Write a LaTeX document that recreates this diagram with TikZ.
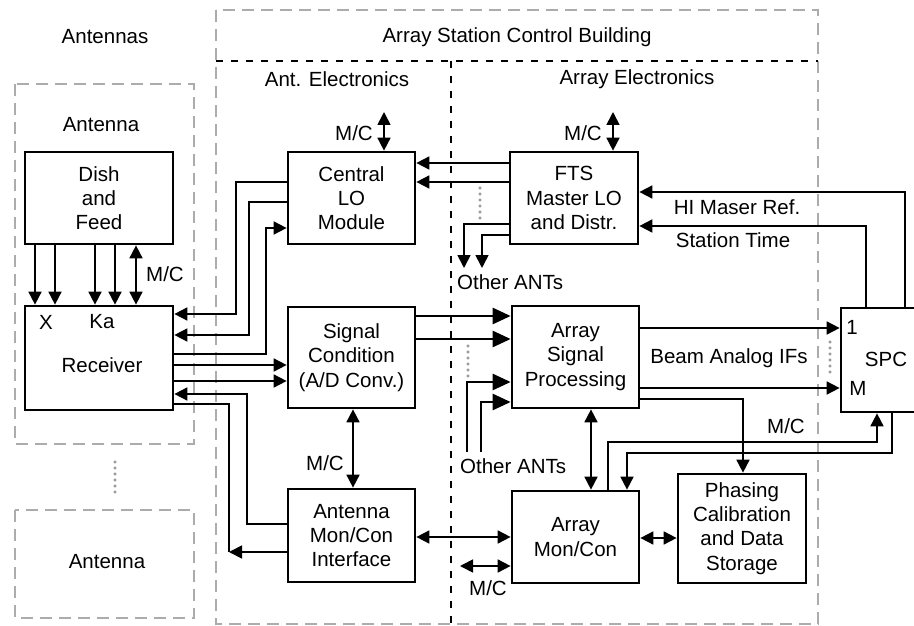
\documentclass[tikz,border=0pt]{standalone}
\usepackage{fontspec}
\setmainfont{Liberation Sans}
\usetikzlibrary{arrows.meta}
\newcommand\dfont{\fontsize{20.5}{24.3}\selectfont}
\definecolor{dgray}{RGB}{172,172,172}
\definecolor{dotgray}{RGB}{120,120,120}
\tikzset{
  blk/.style={draw, line width=2.7pt, align=center, inner sep=0pt, font=\dfont},
  lbl/.style={inner sep=0pt, font=\dfont, align=center},
  conn/.style={line width=1.7pt},
  arr/.style={line width=1.7pt, -{Triangle[length=13pt,width=13pt]}},
  darr/.style={line width=1.7pt, {Triangle[length=13pt,width=13pt]}-{Triangle[length=13pt,width=13pt]}},
  tarr/.style={line width=2.6pt, -{Triangle[length=18pt,width=16pt]}},
  grayzone/.style={draw=dgray, line width=2.5pt, dash pattern=on 12pt off 7pt},
  blackzone/.style={draw=black, line width=2.3pt, dash pattern=on 7pt off 8pt},
  dotc/.style={draw=dotgray, line width=0.6pt}
}
\newcommand\dotcol[2]{\foreach \k in {0,...,5}{\draw[dotc] (#1,#2+6*\k) circle (1.3pt);}}
\begin{document}
\begin{tikzpicture}[x=1pt,y=-1pt]
\useasboundingbox (0,0) rectangle (914,626);
% zones
\draw[grayzone] (216,10) rectangle (818,624);
\draw[blackzone] (216,61) -- (818,61);
\draw[blackzone] (451,61) -- (451,626);
\draw[grayzone] (15,84) rectangle (194,444);
\draw[grayzone] (15,510) rectangle (194,618);
% zone labels
\node[lbl] (tAntennas) at (105,37) {Antennas};
\node[lbl] (tASCB) at (517,37) {Array Station Control Building};
\node[lbl] (tAntEl) at (337,79) {Ant. Electronics};
\node[lbl] (tArrEl) at (637,79) {Array Electronics};
\node[lbl] (tAnt1) at (101,125) {Antenna};
\node[lbl] (tAnt2) at (107,562) {Antenna};
% blocks
\node[blk, minimum width=148pt, minimum height=92pt] (dish) at (99,198) {Dish\\and\\Feed};
\node[blk, minimum width=148pt, minimum height=104pt] (recv) at (99,358) {};
\node[lbl] (tX) at (46,322) {X};
\node[lbl] (tKa) at (102,322) {Ka};
\node[lbl] (tRecv) at (102,365) {Receiver};
\node[blk, minimum width=127pt, minimum height=92pt] (clo) at (351.5,198) {Central\\LO\\Module};
\node[blk, minimum width=128pt, minimum height=92pt] (fts) at (574,198) {FTS\\Master LO\\and Distr.};
\node[blk, minimum width=127pt, minimum height=101pt] (sc) at (351.5,357.5) {Signal\\Condition\\(A/D Conv.)};
\node[blk, minimum width=127pt, minimum height=93pt] (amci) at (351.5,535.5) {Antenna\\Mon/Con\\Interface};
\node[blk, minimum width=127pt, minimum height=102pt] (asp) at (575.5,357) {Array\\Signal\\Processing};
\node[blk, minimum width=127pt, minimum height=92pt] (amc) at (575.5,537) {Array\\Mon/Con};
\node[blk, minimum width=128pt, minimum height=109pt] (pcds) at (742,528.5) {Phasing\\Calibration\\and Data\\Storage};
\node[blk, minimum width=90pt, minimum height=104pt] (spc) at (886,360) {};
\node[lbl] (tSPC) at (886,359) {SPC};
\node[lbl] (t1) at (852,327) {1};
\node[lbl] (tM) at (858,388) {M};
% dish -> receiver
\foreach \xx in {35,55,95,115}{\draw[arr] (dish.south -| \xx,0) -- (recv.north -| \xx,0);}
\draw[darr] (recv.north -| 136,0) -- (dish.south -| 136,0);
\node[lbl] (mc1) at (165,274) {M/C};
% central LO <-> receiver
\draw[arr] (clo.west |- 0,182) -| (236,314) -- (recv.east |- 0,314);
\draw[arr] (clo.west |- 0,202) -| (249,335) -- (recv.east |- 0,335);
\draw[arr] (recv.east |- 0,354) -| (266,228) -- (clo.west |- 0,228);
% receiver -> signal condition
\draw[arr] (recv.east |- 0,365) -- (sc.west |- 0,365);
\draw[arr] (recv.east |- 0,381) -- (sc.west |- 0,381);
% antenna mon/con interface <-> receiver
\draw[arr] (amci.west |- 0,524) -| (247,394) -- (recv.east |- 0,394);
\coordinate (c552) at (229,552);
\draw[conn] (recv.east |- 0,404) -| (c552);
\draw[arr] (amci.west |- 0,552) -- (c552);
% sc <-> amci
\draw[darr] (sc.south -| 353,0) -- (amci.north -| 353,0);
\node[lbl] (mc2) at (325,463) {M/C};
% M/C on central LO and FTS
\coordinate (cloMC) at (384,112);
\draw[darr] (cloMC) -- (clo.north -| cloMC);
\node[lbl] (mc3) at (354,133) {M/C};
\coordinate (ftsMC) at (613,112);
\draw[darr] (ftsMC) -- (fts.north -| ftsMC);
\node[lbl] (mc4) at (583,133) {M/C};
% FTS -> central LO
\draw[arr] (fts.west |- 0,163) -- (clo.east |- 0,163);
\draw[arr] (fts.west |- 0,182) -- (clo.east |- 0,182);
% FTS -> other ANTs
\coordinate (oa1) at (464,268);
\coordinate (oa2) at (482,268);
\draw[arr] (fts.west |- 0,224) -| (oa1);
\draw[arr] (fts.west |- 0,235) -| (oa2);
\node[lbl, anchor=west] (toa1) at (457,282) {Other ANTs};
\dotcol{480}{188}
% SC -> ASP thick
\draw[tarr] (sc.east |- 0,316) -- (asp.west |- 0,316);
\draw[tarr] (sc.east |- 0,339) -- (asp.west |- 0,339);
% other ANTs -> ASP
\coordinate (ob1) at (467,452);
\coordinate (ob2) at (481,452);
\draw[tarr] (ob1) |- (asp.west |- 0,382);
\draw[tarr] (ob2) |- (asp.west |- 0,402);
\node[lbl, anchor=west] (toa2) at (460,466) {Other ANTs};
\dotcol{468}{346}
% ASP -> SPC
\draw[arr] (asp.east |- 0,328) -- (spc.west |- 0,328);
\draw[arr] (asp.east |- 0,388) -- (spc.west |- 0,388);
\node[lbl] (tBeam) at (729,358) {Beam Analog IFs};
\dotcol{830}{342}
% ASP -> Phasing
\draw[arr] (asp.east |- 0,399) -| (pcds.north -| 743,0);
% ASP <-> AMC
\draw[darr] (asp.south -| 591,0) -- (amc.north -| 591,0);
% AMC <-> SPC
\draw[arr] (amc.north -| 608,0) |- (877,442) -- (spc.south -| 877,0);
\node[lbl] (mc5) at (786,426) {M/C};
\draw[arr] (spc.south -| 892,0) |- (627,453) -- (amc.north -| 627,0);
% Phasing <-> AMC
\draw[darr] (amc.east |- 0,538) -- (pcds.west |- 0,538);
% AMCI <-> AMC
\draw[darr] (amci.east |- 0,537) -- (amc.west |- 0,537);
% AMC M/C
\coordinate (amcMC) at (460,566);
\draw[darr] (amcMC) -- (amc.west |- amcMC);
\node[lbl] (mc6) at (488,588) {M/C};
% SPC -> FTS
\draw[arr] (spc.north -| 905,0) |- (fts.east |- 0,192);
\node[lbl] (tHI) at (737,207) {HI Maser Ref.};
\draw[arr] (spc.north -| 866,0) |- (fts.east |- 0,226);
\node[lbl] (tST) at (733,240) {Station Time};
% dots between antennas
\dotcol{115}{462}
\end{tikzpicture}
\end{document}
